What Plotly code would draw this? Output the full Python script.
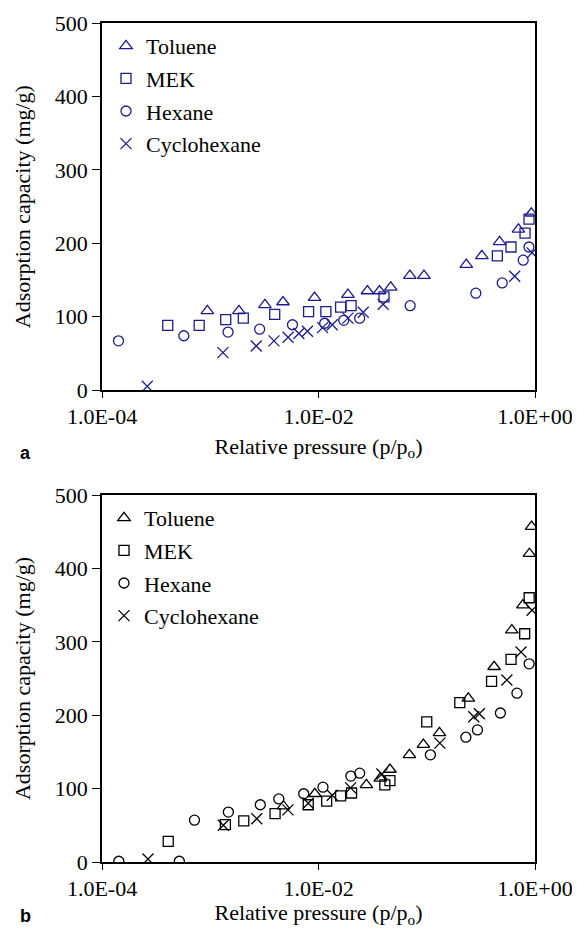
import plotly.graph_objects as go

# --- panel a (blue) ---
tol_a_x = [9.4e-4, 1.84e-3, 3.2e-3, 4.7e-3, 9.2e-3, 0.0187, 0.0283, 0.0366, 0.0465, 0.0698, 0.0942, 0.232, 0.323, 0.471, 0.703, 0.925]
tol_a_y = [108, 108, 116, 120, 126, 130, 135, 135, 140, 156, 156, 171, 183, 202, 219, 241]
mek_a_x = [4.05e-4, 7.9e-4, 1.39e-3, 2.02e-3, 3.94e-3, 8.1e-3, 0.0117, 0.016, 0.020, 0.0403, 0.449, 0.600, 0.809, 0.88]
mek_a_y = [88, 88, 96, 98, 103, 107, 107, 113, 115, 127, 183, 195, 214, 233]
hex_a_x = [1.42e-4, 5.7e-4, 1.46e-3, 2.86e-3, 5.75e-3, 0.0114, 0.0171, 0.024, 0.0703, 0.284, 0.498, 0.778, 0.88]
hex_a_y = [67, 74, 79, 83, 89, 91, 95, 98, 115, 132, 146, 177, 195]
cyc_a_x = [2.62e-4, 1.31e-3, 2.66e-3, 3.88e-3, 5.24e-3, 6.58e-3, 7.9e-3, 0.0109, 0.0134, 0.0187, 0.0259, 0.0396, 0.649, 0.94]
cyc_a_y = [5, 51, 60, 67, 72, 77, 80, 85, 89, 98, 106, 117, 155, 187]

# --- panel b (black) ---
tol_b_x = [4.75e-3, 9.25e-3, 0.0277, 0.0372, 0.0457, 0.0692, 0.0931, 0.131, 0.242, 0.419, 0.611, 0.773, 0.889, 0.93]
tol_b_y = [76, 93, 105, 114, 126, 146, 160, 176, 223, 266, 316, 350, 420, 457]
mek_b_x = [4.09e-4, 1.38e-3, 2.04e-3, 3.97e-3, 8.04e-3, 0.0119, 0.016, 0.0202, 0.041, 0.0457, 0.1, 0.202, 0.397, 0.601, 0.803, 0.883]
mek_b_y = [28, 51, 56, 66, 78, 83, 90, 94, 105, 111, 191, 217, 246, 276, 311, 360]
hex_b_x = [1.43e-4, 5.18e-4, 7.15e-4, 1.47e-3, 2.9e-3, 4.3e-3, 7.3e-3, 0.011, 0.0199, 0.024, 0.108, 0.23, 0.294, 0.479, 0.681, 0.883]
hex_b_y = [1, 1, 57, 68, 78, 86, 93, 102, 117, 121, 146, 170, 180, 203, 230, 270]
cyc_b_x = [2.66e-4, 1.32e-3, 2.69e-3, 5.22e-3, 8.04e-3, 0.0134, 0.0198, 0.0385, 0.132, 0.272, 0.306, 0.55, 0.743, 0.94]
cyc_b_y = [4, 50, 59, 71, 80, 91, 101, 120, 162, 198, 202, 248, 286, 343]

names = ['Toluene', 'MEK', 'Hexane', 'Cyclohexane']
symbols = ['triangle-up-open', 'square-open', 'circle-open', 'x-thin-open']
sizes = [11, 10, 10, 11]

x_major = [1e-4, 1e-2, 1]
x_major_text = ['1.0E-04', '1.0E-02', '1.0E+00']
x_all = [m * 10 ** e for e in range(-4, 0) for m in range(1, 10)] + [1]
y_ticks = [0, 100, 200, 300, 400, 500]

FONT = 'Liberation Serif'
BLUE = '#1c1c8c'

# the page body has an 8px margin: the figure starts 8px in from the window corner
W, H, OFF = 572, 920, 8


def px(sx):
    return (sx - OFF) / W


def py(sy):
    return 1 - (sy - OFF) / H


fig = go.Figure()

panels = [
    ('x', 'y', 'legend', BLUE, [(tol_a_x, tol_a_y), (mek_a_x, mek_a_y), (hex_a_x, hex_a_y), (cyc_a_x, cyc_a_y)]),
    ('x2', 'y2', 'legend2', 'black', [(tol_b_x, tol_b_y), (mek_b_x, mek_b_y), (hex_b_x, hex_b_y), (cyc_b_x, cyc_b_y)]),
]
for xa, ya, leg, col, series in panels:
    for i, (xs, ys) in enumerate(series):
        fig.add_trace(go.Scatter(
            x=xs, y=ys, mode='markers', name=names[i],
            xaxis=xa, yaxis=ya, legend=leg, legendgroup=leg + names[i],
            marker=dict(symbol=symbols[i], size=sizes[i], color=col,
                        line=dict(color=col, width=1.3)),
        ))


def x_main(y_anchor, standoff):
    return dict(
        domain=[px(102), px(535)], anchor=y_anchor, type='log', range=[-4, 0],
        tickmode='array', tickvals=x_major, ticktext=x_major_text,
        ticks='outside', ticklen=6, tickwidth=1.3, tickcolor='black',
        showline=True, linecolor='black', linewidth=1.5, mirror=True,
        showgrid=False, zeroline=False, automargin=False, ticklabeloverflow='allow',
        tickfont=dict(family=FONT, size=22, color='black'),
        title=dict(text='Relative pressure (p/p<sub>o</sub>)', standoff=standoff,
                   font=dict(family=FONT, size=22, color='black')),
    )


def y_main(domain, x_anchor):
    return dict(
        domain=domain, anchor=x_anchor, range=[0, 500],
        tickmode='array', tickvals=y_ticks,
        ticks='outside', ticklen=8, tickwidth=1.3, tickcolor='black',
        showline=True, linecolor='black', linewidth=1.5, mirror=True,
        showgrid=False, zeroline=False, automargin=False,
        tickfont=dict(family=FONT, size=22, color='black'),
        title=dict(text='Adsorption capacity (mg/g)', standoff=18,
                   font=dict(family=FONT, size=22, color='black')),
    )


def x_inner(base, y_anchor):
    return dict(overlaying=base, anchor=y_anchor, type='log', range=[-4, 0],
                tickmode='array', tickvals=x_all, ticks='inside', ticklen=6,
                tickwidth=1.1, tickcolor='black', showticklabels=False,
                showline=False, showgrid=False, zeroline=False, automargin=False)


def y_inner(base, x_anchor):
    return dict(overlaying=base, anchor=x_anchor, range=[0, 500],
                tickmode='array', tickvals=y_ticks, ticks='inside', ticklen=6,
                tickwidth=1.3, tickcolor='black', showticklabels=False,
                showline=False, showgrid=False, zeroline=False, automargin=False)


legend_style = dict(
    xanchor='left', yanchor='top', bgcolor='rgba(0,0,0,0)',
    font=dict(family=FONT, size=22, color='black'),
    traceorder='grouped', tracegroupgap=1,
)

fig.update_layout(
    width=W, height=H,
    margin=dict(l=0, r=0, t=0, b=0),
    paper_bgcolor='white', plot_bgcolor='white',
    xaxis=x_main('y', 10),
    yaxis=y_main([py(390), py(23.3)], 'x'),
    xaxis2=x_main('y2', 4),
    yaxis2=y_main([py(862), py(495)], 'x2'),
    xaxis3=x_inner('x', 'y'),
    yaxis3=y_inner('y', 'x'),
    xaxis4=x_inner('x2', 'y2'),
    yaxis4=y_inner('y2', 'x2'),
    legend=dict(x=px(106), y=py(25), **legend_style),
    legend2=dict(x=px(104), y=py(497), **legend_style),
    annotations=[
        dict(text='<b>a</b>', x=px(18), y=py(453), xref='paper', yref='paper',
             showarrow=False, font=dict(family='Liberation Sans', size=18, color='black')),
        dict(text='<b>b</b>', x=px(18), y=0, yanchor='bottom', xref='paper', yref='paper',
             showarrow=False, font=dict(family='Liberation Sans', size=18, color='black')),
    ],
)

fig.write_html('out.html')
